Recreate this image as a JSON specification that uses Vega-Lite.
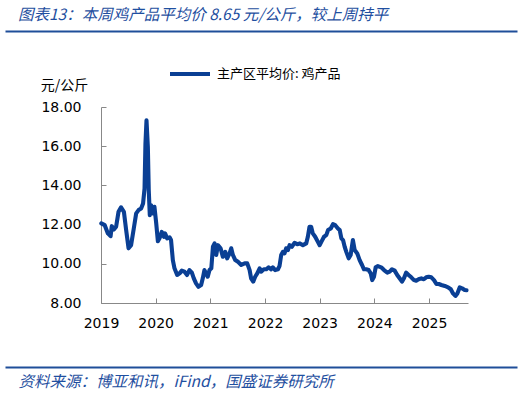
{
  "$schema": "https://vega.github.io/schema/vega-lite/v6.json",
  "autosize": {"type": "none"},
  "width": 367,
  "height": 196,
  "padding": {"left": 101, "top": 107, "right": 58, "bottom": 90},
  "background": "#ffffff",
  "config": {"view": {"stroke": null}},
  "title": {
    "text": "图表13：本周鸡产品平均价 8.65 元/公斤，较上周持平",
    "anchor": "start",
    "frame": "group",
    "dx": -83,
    "offset": 8,
    "font": "Noto Sans CJK SC",
    "fontSize": 15.5,
    "fontStyle": "italic",
    "fontWeight": "normal",
    "color": "#1f4fa0"
  },
  "data": {
    "values": [
      {"date": "2019-01-03", "price": 12.06},
      {"date": "2019-01-26", "price": 11.97},
      {"date": "2019-02-16", "price": 11.55},
      {"date": "2019-03-06", "price": 11.41},
      {"date": "2019-03-14", "price": 11.92},
      {"date": "2019-03-28", "price": 11.75},
      {"date": "2019-04-12", "price": 11.89},
      {"date": "2019-04-28", "price": 12.65},
      {"date": "2019-05-15", "price": 12.88},
      {"date": "2019-06-03", "price": 12.65},
      {"date": "2019-06-18", "price": 11.72},
      {"date": "2019-07-04", "price": 10.79},
      {"date": "2019-07-21", "price": 10.95},
      {"date": "2019-08-08", "price": 11.8},
      {"date": "2019-08-24", "price": 12.57},
      {"date": "2019-09-09", "price": 12.74},
      {"date": "2019-09-26", "price": 12.82},
      {"date": "2019-10-09", "price": 13.08},
      {"date": "2019-10-19", "price": 13.84},
      {"date": "2019-10-25", "price": 16.13},
      {"date": "2019-11-01", "price": 17.32},
      {"date": "2019-11-10", "price": 15.96},
      {"date": "2019-11-16", "price": 13.76},
      {"date": "2019-11-23", "price": 12.48},
      {"date": "2019-12-02", "price": 12.99},
      {"date": "2019-12-13", "price": 12.57},
      {"date": "2019-12-24", "price": 12.91},
      {"date": "2020-01-05", "price": 12.06},
      {"date": "2020-01-16", "price": 11.15},
      {"date": "2020-01-27", "price": 11.3},
      {"date": "2020-02-11", "price": 11.63},
      {"date": "2020-02-25", "price": 11.38},
      {"date": "2020-03-04", "price": 11.55},
      {"date": "2020-03-18", "price": 11.3},
      {"date": "2020-04-03", "price": 11.35},
      {"date": "2020-04-13", "price": 11.21},
      {"date": "2020-04-25", "price": 10.19},
      {"date": "2020-05-06", "price": 9.77},
      {"date": "2020-05-24", "price": 9.43},
      {"date": "2020-06-09", "price": 9.51},
      {"date": "2020-06-24", "price": 9.65},
      {"date": "2020-07-12", "price": 9.6},
      {"date": "2020-07-29", "price": 9.43},
      {"date": "2020-08-14", "price": 9.68},
      {"date": "2020-08-30", "price": 9.55},
      {"date": "2020-09-12", "price": 9.26},
      {"date": "2020-09-27", "price": 9.0},
      {"date": "2020-10-13", "price": 8.83},
      {"date": "2020-10-31", "price": 8.92},
      {"date": "2020-11-11", "price": 9.26},
      {"date": "2020-11-22", "price": 9.68},
      {"date": "2020-12-03", "price": 9.51},
      {"date": "2020-12-14", "price": 9.34},
      {"date": "2020-12-26", "price": 9.68},
      {"date": "2021-01-07", "price": 9.77},
      {"date": "2021-01-18", "price": 10.87},
      {"date": "2021-01-29", "price": 11.04},
      {"date": "2021-02-09", "price": 10.45},
      {"date": "2021-02-20", "price": 10.95},
      {"date": "2021-03-10", "price": 10.79},
      {"date": "2021-03-25", "price": 10.36},
      {"date": "2021-04-10", "price": 10.61},
      {"date": "2021-04-23", "price": 10.28},
      {"date": "2021-05-09", "price": 10.53},
      {"date": "2021-05-20", "price": 10.79},
      {"date": "2021-05-31", "price": 10.45},
      {"date": "2021-06-16", "price": 10.19},
      {"date": "2021-07-04", "price": 10.1},
      {"date": "2021-07-26", "price": 9.94},
      {"date": "2021-08-18", "price": 10.02},
      {"date": "2021-09-04", "price": 10.02},
      {"date": "2021-09-20", "price": 9.68},
      {"date": "2021-09-30", "price": 9.26},
      {"date": "2021-10-14", "price": 9.09},
      {"date": "2021-10-27", "price": 9.34},
      {"date": "2021-11-10", "price": 9.51},
      {"date": "2021-11-26", "price": 9.77},
      {"date": "2021-12-06", "price": 9.6},
      {"date": "2021-12-24", "price": 9.72},
      {"date": "2022-01-10", "price": 9.72},
      {"date": "2022-01-25", "price": 9.82},
      {"date": "2022-02-11", "price": 9.72},
      {"date": "2022-02-22", "price": 9.82},
      {"date": "2022-03-10", "price": 9.68},
      {"date": "2022-03-28", "price": 9.72},
      {"date": "2022-04-08", "price": 9.9},
      {"date": "2022-04-19", "price": 10.45},
      {"date": "2022-04-30", "price": 10.61},
      {"date": "2022-05-11", "price": 10.53},
      {"date": "2022-05-22", "price": 10.79},
      {"date": "2022-06-03", "price": 10.7},
      {"date": "2022-06-14", "price": 10.95},
      {"date": "2022-06-29", "price": 10.87},
      {"date": "2022-07-17", "price": 11.07},
      {"date": "2022-08-04", "price": 11.0},
      {"date": "2022-08-22", "price": 11.04},
      {"date": "2022-09-11", "price": 10.95},
      {"date": "2022-10-03", "price": 11.04},
      {"date": "2022-10-14", "price": 11.38},
      {"date": "2022-10-25", "price": 11.89},
      {"date": "2022-11-05", "price": 11.89},
      {"date": "2022-11-16", "price": 11.55},
      {"date": "2022-12-02", "price": 11.38},
      {"date": "2022-12-20", "price": 11.12},
      {"date": "2023-01-01", "price": 10.95},
      {"date": "2023-01-12", "price": 11.12},
      {"date": "2023-01-30", "price": 11.38},
      {"date": "2023-02-14", "price": 11.46},
      {"date": "2023-02-26", "price": 11.72},
      {"date": "2023-03-16", "price": 11.8},
      {"date": "2023-03-31", "price": 12.02},
      {"date": "2023-04-15", "price": 11.97},
      {"date": "2023-05-03", "price": 11.8},
      {"date": "2023-05-15", "price": 11.72},
      {"date": "2023-05-26", "price": 11.3},
      {"date": "2023-06-06", "price": 11.21},
      {"date": "2023-06-17", "price": 10.87},
      {"date": "2023-06-28", "price": 10.61},
      {"date": "2023-07-14", "price": 10.28},
      {"date": "2023-07-27", "price": 10.45},
      {"date": "2023-08-11", "price": 11.21},
      {"date": "2023-08-23", "price": 10.7},
      {"date": "2023-09-09", "price": 10.53},
      {"date": "2023-09-25", "price": 10.19},
      {"date": "2023-10-11", "price": 9.94},
      {"date": "2023-10-24", "price": 9.72},
      {"date": "2023-11-08", "price": 9.72},
      {"date": "2023-11-24", "price": 9.68},
      {"date": "2023-12-08", "price": 9.51},
      {"date": "2023-12-18", "price": 9.17},
      {"date": "2023-12-30", "price": 9.34},
      {"date": "2024-01-10", "price": 9.82},
      {"date": "2024-01-25", "price": 9.88},
      {"date": "2024-02-16", "price": 9.82},
      {"date": "2024-03-06", "price": 9.68},
      {"date": "2024-03-28", "price": 9.55},
      {"date": "2024-04-13", "price": 9.6},
      {"date": "2024-04-28", "price": 9.72},
      {"date": "2024-05-16", "price": 9.65},
      {"date": "2024-06-02", "price": 9.43},
      {"date": "2024-06-18", "price": 9.26},
      {"date": "2024-07-04", "price": 9.09},
      {"date": "2024-07-17", "price": 9.26},
      {"date": "2024-08-01", "price": 9.55},
      {"date": "2024-08-17", "price": 9.43},
      {"date": "2024-09-04", "price": 9.31},
      {"date": "2024-09-22", "price": 9.17},
      {"date": "2024-10-07", "price": 9.14},
      {"date": "2024-10-23", "price": 9.21},
      {"date": "2024-11-10", "price": 9.26},
      {"date": "2024-11-27", "price": 9.21},
      {"date": "2024-12-13", "price": 9.31},
      {"date": "2024-12-29", "price": 9.34},
      {"date": "2025-01-16", "price": 9.31},
      {"date": "2025-02-03", "price": 9.17},
      {"date": "2025-02-19", "price": 8.97},
      {"date": "2025-03-07", "price": 8.97},
      {"date": "2025-03-24", "price": 8.92},
      {"date": "2025-04-16", "price": 8.87},
      {"date": "2025-05-08", "price": 8.8},
      {"date": "2025-05-26", "price": 8.7},
      {"date": "2025-06-10", "price": 8.49},
      {"date": "2025-06-26", "price": 8.36},
      {"date": "2025-07-09", "price": 8.49},
      {"date": "2025-07-25", "price": 8.8},
      {"date": "2025-08-09", "price": 8.75},
      {"date": "2025-08-27", "price": 8.66},
      {"date": "2025-09-08", "price": 8.65}
    ]
  },
  "resolve": {"scale": {"x": "independent"}, "axis": {"x": "independent"}},
  "layer": [
    {
      "mark": {"type": "line", "strokeWidth": 4.1, "strokeJoin": "round", "strokeCap": "round"},
      "encoding": {
        "x": {
          "field": "date",
          "type": "temporal",
          "scale": {"domain": [{"year": 2019, "month": 1, "date": 1}, {"year": 2025, "month": 9, "date": 18}]},
          "axis": {
            "orient": "bottom",
            "title": null,
            "format": "%Y",
            "tickCount": {"interval": "year", "step": 1},
            "grid": false,
            "domainColor": "#888888",
            "domainWidth": 1,
            "tickColor": "#888888",
            "tickSize": -5,
            "labelPadding": 18,
            "labelFont": "DejaVu Sans",
            "labelFontSize": 14,
            "labelColor": "#000000",
            "labelFlush": false,
            "labelOverlap": false
          }
        },
        "y": {
          "field": "price",
          "type": "quantitative",
          "scale": {"domain": [8, 18], "nice": false, "zero": false},
          "axis": {
            "values": [8, 10, 12, 14, 16, 18],
            "format": ".2f",
            "grid": false,
            "domainColor": "#888888",
            "domainWidth": 1,
            "tickColor": "#888888",
            "tickSize": -5,
            "labelPadding": 25,
            "labelFont": "DejaVu Sans",
            "labelFontSize": 14,
            "labelColor": "#000000",
            "title": "元/公斤",
            "titleAngle": 0,
            "titleX": -37,
            "titleY": -22,
            "titleAlign": "center",
            "titleBaseline": "middle",
            "titleFont": "Noto Sans CJK SC",
            "titleFontSize": 14,
            "titleFontWeight": "normal",
            "titleColor": "#000000"
          }
        },
        "color": {
          "datum": "主产区平均价: 鸡产品",
          "type": "nominal",
          "scale": {"range": ["#0a3f94"]},
          "legend": {
            "title": null,
            "orient": "none",
            "legendX": 67,
            "legendY": -55,
            "padding": 0,
            "symbolType": "stroke",
            "symbolStrokeWidth": 4,
            "symbolSize": 1600,
            "labelOffset": 5,
            "labelFont": "Noto Sans CJK SC",
            "labelFontSize": 13,
            "labelColor": "#000000"
          }
        }
      }
    },
    {
      "mark": {"type": "point", "opacity": 0},
      "encoding": {
        "x": {
          "field": "date",
          "type": "temporal",
          "scale": {"range": [-96, 416]},
          "axis": {
            "orient": "top",
            "offset": 76,
            "title": null,
            "labels": false,
            "ticks": false,
            "grid": false,
            "domainColor": "#1f4e99",
            "domainWidth": 2
          }
        }
      }
    },
    {
      "mark": {"type": "point", "opacity": 0},
      "encoding": {
        "x": {
          "field": "date",
          "type": "temporal",
          "scale": {"range": [-96, 416]},
          "axis": {
            "orient": "bottom",
            "offset": 64,
            "labels": false,
            "ticks": false,
            "grid": false,
            "domainColor": "#1f4e99",
            "domainWidth": 2,
            "title": "资料来源：博亚和讯，iFind，国盛证券研究所",
            "titleX": -83,
            "titleY": 14,
            "titleAlign": "left",
            "titleBaseline": "middle",
            "titleFont": "Noto Sans CJK SC",
            "titleFontSize": 15.5,
            "titleFontStyle": "italic",
            "titleFontWeight": "normal",
            "titleColor": "#1f4fa0"
          }
        }
      }
    }
  ]
}
